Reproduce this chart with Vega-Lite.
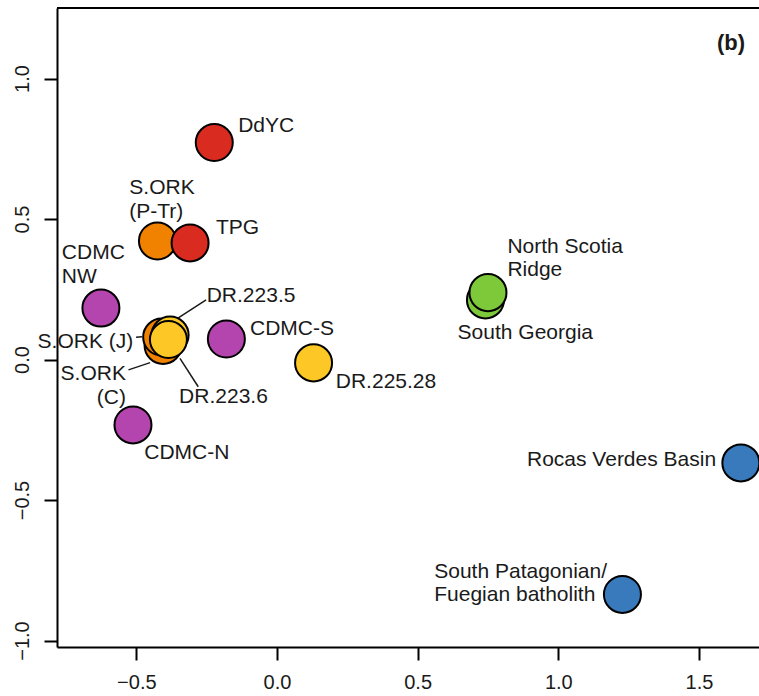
{
  "$schema": "https://vega.github.io/schema/vega-lite/v6.json",
  "width": 702,
  "height": 639,
  "autosize": "none",
  "padding": {"left": 57, "top": 8, "right": 0, "bottom": 49},
  "background": "white",
  "config": {
    "view": {"stroke": null},
    "font": "Liberation Sans",
    "text": {"font": "Liberation Sans", "fontSize": 21, "color": "#1a1a1a", "lineBreak": "\n", "lineHeight": 23.5}
  },
  "datasets": {
    "points": [
      {"name": "CDMC NW", "group": "CDMC", "x": -0.626, "y": 0.183},
      {"name": "CDMC-S", "group": "CDMC", "x": -0.180, "y": 0.073},
      {"name": "CDMC-N", "group": "CDMC", "x": -0.512, "y": -0.233},
      {"name": "DdYC", "group": "DdYC-TPG", "x": -0.223, "y": 0.772},
      {"name": "S.ORK (P-Tr)", "group": "S.ORK", "x": -0.425, "y": 0.422},
      {"name": "TPG", "group": "DdYC-TPG", "x": -0.309, "y": 0.415},
      {"name": "S.ORK (C)", "group": "S.ORK", "x": -0.405, "y": 0.050},
      {"name": "S.ORK (J)", "group": "S.ORK", "x": -0.410, "y": 0.080},
      {"name": "DR.223.5", "group": "DR", "x": -0.380, "y": 0.087},
      {"name": "DR.223.6", "group": "DR", "x": -0.386, "y": 0.071},
      {"name": "DR.225.28", "group": "DR", "x": 0.130, "y": -0.012},
      {"name": "South Georgia", "group": "NSR-SG", "x": 0.741, "y": 0.212},
      {"name": "North Scotia Ridge", "group": "NSR-SG", "x": 0.750, "y": 0.238},
      {"name": "Rocas Verdes Basin", "group": "Patagonia", "x": 1.649, "y": -0.368},
      {"name": "South Patagonian/Fuegian batholith", "group": "Patagonia", "x": 1.228, "y": -0.836}
    ],
    "labelsLeft": [
      {"label": "DdYC", "x": -0.138, "y": 0.809},
      {"label": "S.ORK\n(P-Tr)", "x": -0.525, "y": 0.588},
      {"label": "TPG", "x": -0.217, "y": 0.446},
      {"label": "CDMC\nNW", "x": -0.765, "y": 0.356},
      {"label": "DR.223.5", "x": -0.250, "y": 0.206},
      {"label": "CDMC-S", "x": -0.096, "y": 0.087},
      {"label": "DR.223.6", "x": -0.348, "y": -0.156},
      {"label": "DR.225.28", "x": 0.209, "y": -0.102},
      {"label": "CDMC-N", "x": -0.472, "y": -0.355},
      {"label": "North Scotia\nRidge", "x": 0.819, "y": 0.380},
      {"label": "South Georgia", "x": 0.642, "y": 0.072},
      {"label": "South Patagonian/\nFuegian batholith", "x": 0.559, "y": -0.777}
    ],
    "labelsRight": [
      {"label": "S.ORK (J)", "x": -0.511, "y": 0.040},
      {"label": "S.ORK\n(C)", "x": -0.537, "y": -0.073},
      {"label": "Rocas Verdes Basin", "x": 1.561, "y": -0.379}
    ],
    "leaders": [
      {"x": -0.501, "y": 0.079, "x2": -0.480, "y2": 0.081},
      {"x": -0.528, "y": -0.037, "x2": -0.451, "y2": -0.011},
      {"x": -0.359, "y": 0.143, "x2": -0.252, "y2": 0.212},
      {"x": -0.345, "y": 0.004, "x2": -0.280, "y2": -0.097}
    ],
    "frameTop": [
      {"x": -0.7821, "x2": 1.7135, "y": 1.2509}
    ]
  },
  "encoding": {
    "x": {
      "field": "x", "type": "quantitative",
      "scale": {"domain": [-0.7821, 1.7135], "nice": false, "zero": false},
      "axis": {"title": null, "values": [-0.5, 0, 0.5, 1, 1.5], "format": ".1f", "grid": false,
               "domainColor": "black", "domainWidth": 2, "tickColor": "black", "tickWidth": 2, "tickSize": 13,
               "labelFont": "Liberation Sans", "labelFontSize": 20, "labelColor": "#1a1a1a", "labelPadding": 12}
    },
    "y": {
      "field": "y", "type": "quantitative",
      "scale": {"domain": [-1.0231, 1.2509], "nice": false, "zero": false},
      "axis": {"title": null, "values": [-1, -0.5, 0, 0.5, 1], "format": ".1f", "grid": false,
               "domainColor": "black", "domainWidth": 2, "tickColor": "black", "tickWidth": 2, "tickSize": 13,
               "labelFont": "Liberation Sans", "labelFontSize": 20, "labelColor": "#1a1a1a", "labelPadding": 12,
               "labelAngle": -90, "labelAlign": "center", "labelBaseline": "bottom"}
    }
  },
  "layer": [
    {
      "data": {"name": "frameTop"},
      "mark": {"type": "rule", "color": "black", "strokeWidth": 2},
      "encoding": {"x2": {"field": "x2"}}
    },
    {
      "data": {"name": "leaders"},
      "mark": {"type": "rule", "color": "#1a1a1a", "strokeWidth": 1.5},
      "encoding": {"x2": {"field": "x2"}, "y2": {"field": "y2"}}
    },
    {
      "data": {"name": "points"},
      "mark": {"type": "point", "shape": "circle", "filled": true, "size": 1370, "stroke": "black", "strokeWidth": 2, "opacity": 1, "fillOpacity": 1, "strokeOpacity": 1},
      "encoding": {
        "fill": {
          "field": "group", "type": "nominal", "legend": null,
          "scale": {"domain": ["DdYC-TPG", "S.ORK", "DR", "CDMC", "NSR-SG", "Patagonia"],
                    "range": ["#d92b20", "#f08200", "#fdc825", "#b444ae", "#7dc93a", "#387abb"]}
        }
      }
    },
    {
      "data": {"name": "labelsLeft"},
      "mark": {"type": "text", "align": "left", "baseline": "alphabetic"},
      "encoding": {"text": {"field": "label"}}
    },
    {
      "data": {"name": "labelsRight"},
      "mark": {"type": "text", "align": "right", "baseline": "alphabetic"},
      "encoding": {"text": {"field": "label"}}
    },
    {
      "data": {"values": [{"tag": "(b)", "x": 1.664, "y": 1.101}]},
      "mark": {"type": "text", "align": "right", "baseline": "alphabetic", "fontWeight": "bold", "fontSize": 22},
      "encoding": {"text": {"field": "tag"}}
    }
  ]
}
